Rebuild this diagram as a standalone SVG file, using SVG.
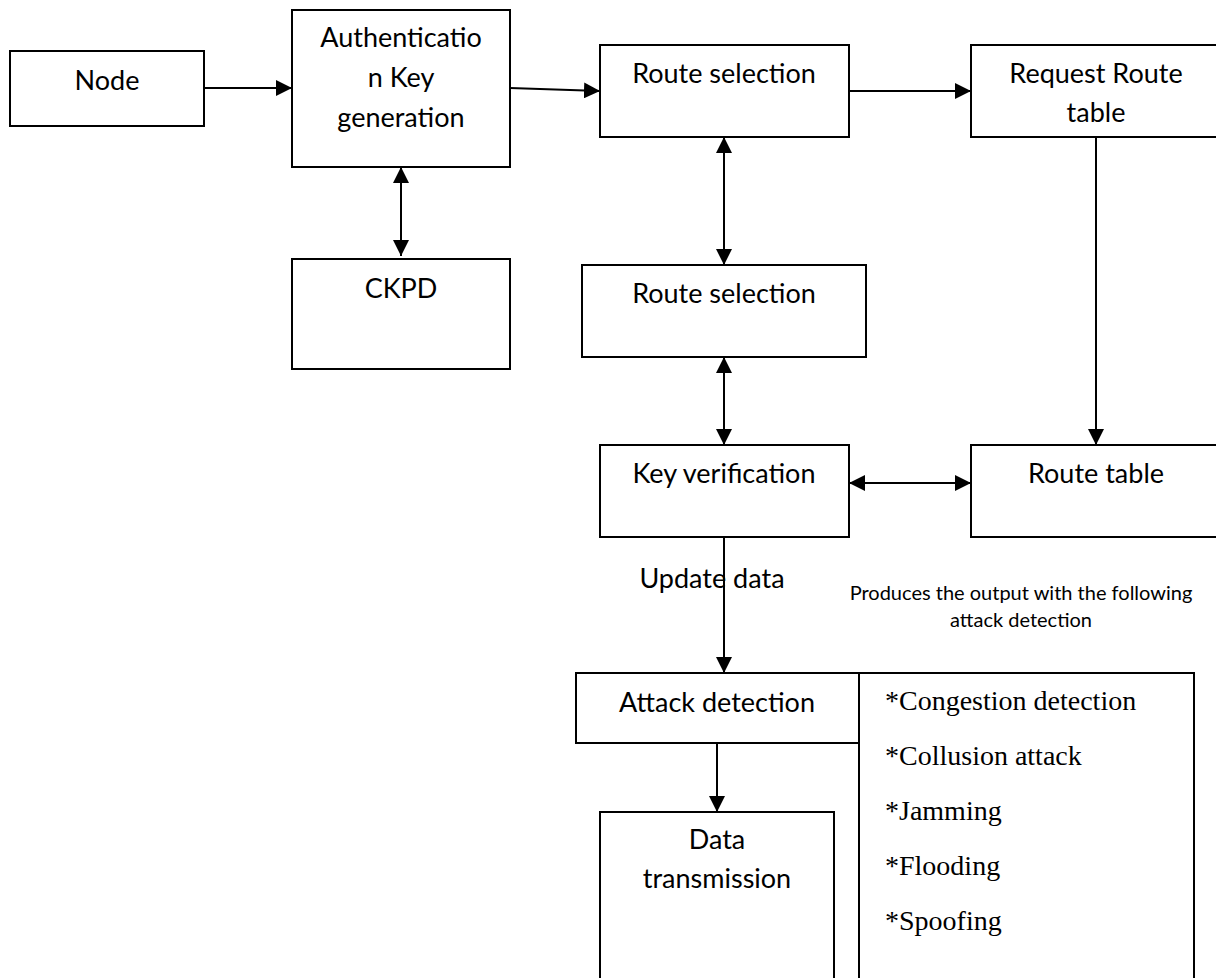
<svg xmlns="http://www.w3.org/2000/svg" width="1216" height="978" viewBox="0 0 1216 978">
<style>
.box{fill:#fff;stroke:#000;stroke-width:2}
.t{font-family:Lato,"Open Sans","Liberation Sans",sans-serif;font-size:27px;fill:#000;text-anchor:middle}
.s{font-family:Lato,"Open Sans","Liberation Sans",sans-serif;font-size:20px;fill:#000;text-anchor:middle}
.r{font-family:"Liberation Serif","Times New Roman",serif;font-size:28px;fill:#000}
.c{fill:none;stroke:#000;stroke-width:2}
</style>
<defs>
<marker id="ah" markerUnits="userSpaceOnUse" markerWidth="16" markerHeight="16" refX="15" refY="7.5" orient="auto-start-reverse" viewBox="0 0 15 15">
<path d="M0,0 L15,7.5 L0,15 Z" fill="#000"/>
</marker>
</defs>
<rect width="1216" height="978" fill="#fff"/>
<g id="node-node"><rect class="box" x="10" y="51" width="194" height="75"/><text class="t" x="107" y="90">Node</text></g>
<g id="node-auth"><rect class="box" x="292" y="10" width="218" height="157"/><text class="t" x="401" y="47">Authenticatio</text><text class="t" x="401" y="87">n Key</text><text class="t" x="401" y="127">generation</text></g>
<g id="node-ckpd"><rect class="box" x="292" y="259" width="218" height="110"/><text class="t" x="401" y="298">CKPD</text></g>
<g id="node-route1"><rect class="box" x="600" y="45" width="249" height="92"/><text class="t" x="724" y="83">Route selection</text></g>
<g id="node-request"><rect class="box" x="971" y="45" width="260" height="92"/><text class="t" x="1096" y="83">Request Route</text><text class="t" x="1096" y="122">table</text></g>
<g id="node-route2"><rect class="box" x="582" y="265" width="284" height="92"/><text class="t" x="724" y="303">Route selection</text></g>
<g id="node-keyver"><rect class="box" x="600" y="445" width="249" height="92"/><text class="t" x="724" y="483">Key verification</text></g>
<g id="node-routetable"><rect class="box" x="971" y="445" width="260" height="92"/><text class="t" x="1096" y="483">Route table</text></g>
<g id="node-attack"><rect class="box" x="576" y="673" width="283" height="70"/><text class="t" x="717" y="712">Attack detection</text></g>
<g id="node-list"><rect class="box" x="859" y="673" width="335" height="320"/>
<text class="r" x="885" y="710">*Congestion detection</text>
<text class="r" x="885" y="765">*Collusion attack</text>
<text class="r" x="885" y="820">*Jamming</text>
<text class="r" x="885" y="875">*Flooding</text>
<text class="r" x="885" y="930">*Spoofing</text>
</g>
<g id="node-data"><rect class="box" x="600" y="812" width="234" height="180"/><text class="t" x="717" y="849">Data</text><text class="t" x="717" y="888">transmission</text></g>
<g id="label-update"><text class="t" x="712" y="588">Update data</text></g>
<g id="label-produces"><text class="s" x="1021" y="600">Produces the output with the following</text><text class="s" x="1021" y="627">attack detection</text></g>
<g id="connectors">
<line class="c" x1="204" y1="88" x2="292" y2="88" marker-end="url(#ah)"/>
<line class="c" x1="510" y1="88" x2="600" y2="91" marker-end="url(#ah)"/>
<line class="c" x1="849" y1="91" x2="971" y2="91" marker-end="url(#ah)"/>
<line class="c" x1="401" y1="167" x2="401" y2="256" marker-start="url(#ah)" marker-end="url(#ah)"/>
<line class="c" x1="724" y1="137" x2="724" y2="265" marker-start="url(#ah)" marker-end="url(#ah)"/>
<line class="c" x1="724" y1="357" x2="724" y2="445" marker-start="url(#ah)" marker-end="url(#ah)"/>
<line class="c" x1="1096" y1="137" x2="1096" y2="445" marker-end="url(#ah)"/>
<line class="c" x1="849" y1="483" x2="971" y2="483" marker-start="url(#ah)" marker-end="url(#ah)"/>
<line class="c" x1="724" y1="537" x2="724" y2="673" marker-end="url(#ah)"/>
<line class="c" x1="717" y1="743" x2="717" y2="812" marker-end="url(#ah)"/>
</g>
</svg>
